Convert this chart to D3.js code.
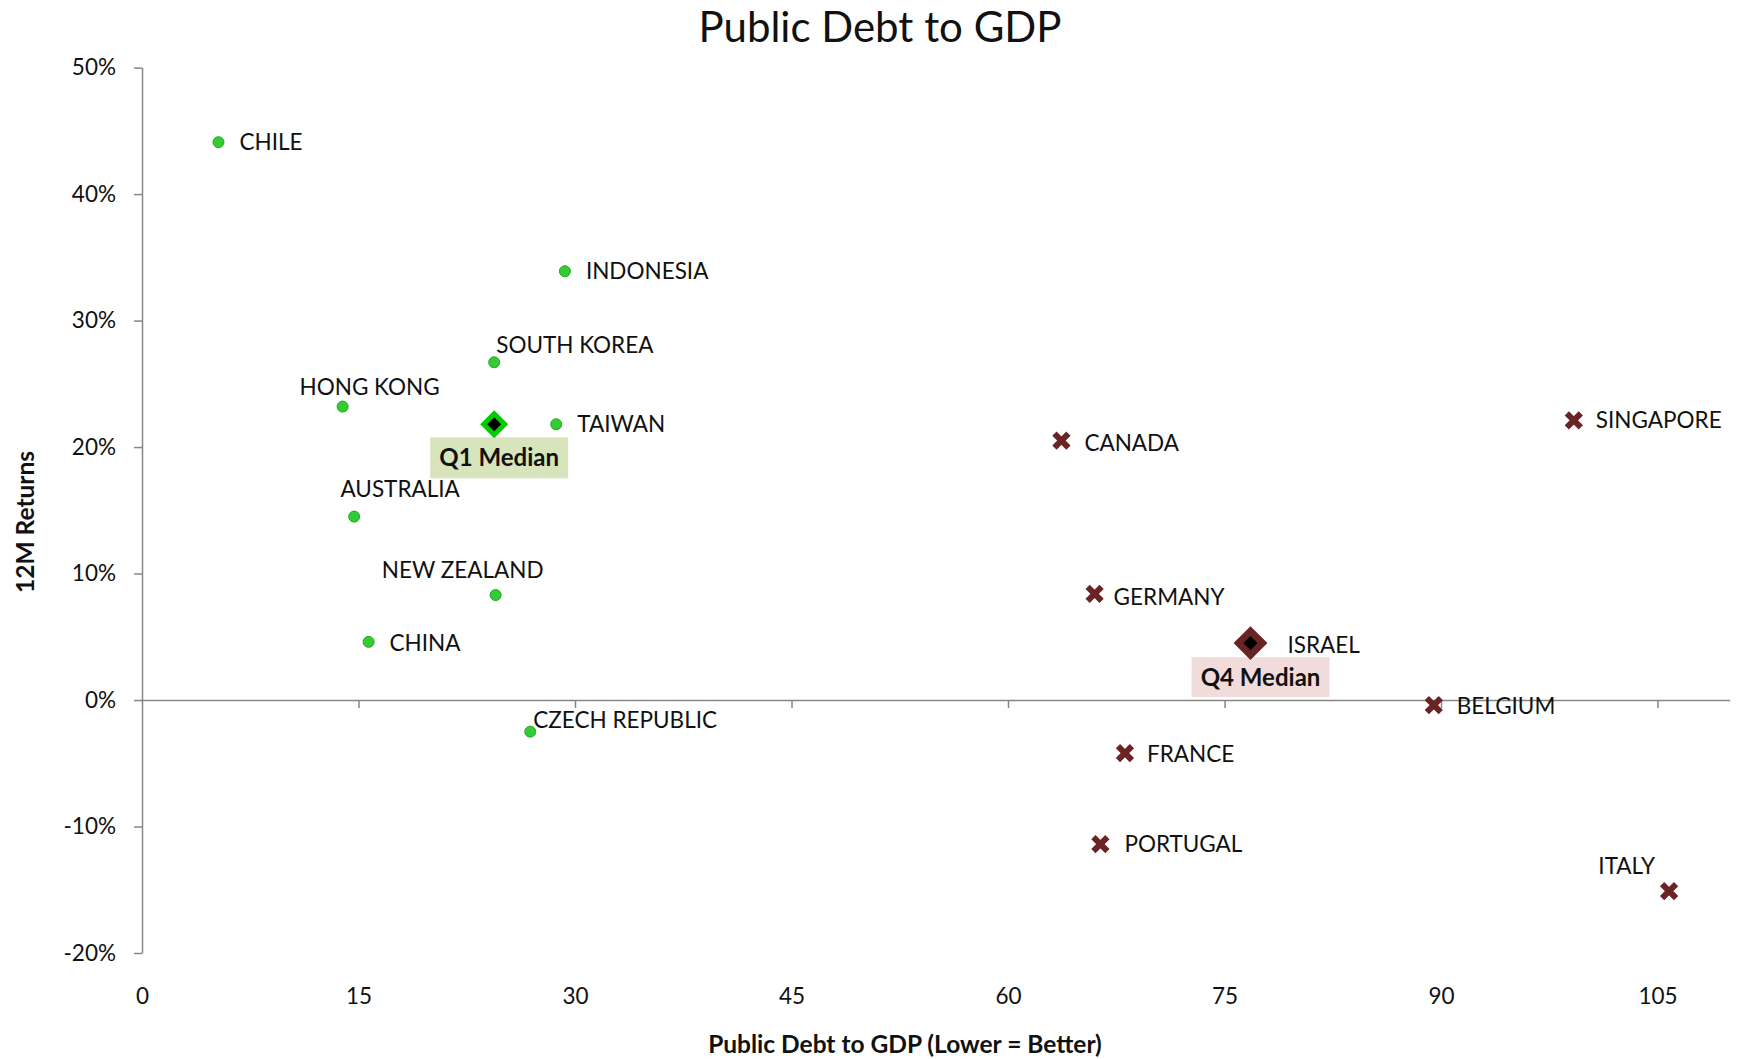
<!DOCTYPE html>
<html>
<head>
<meta charset="utf-8">
<script src="https://cdn.jsdelivr.net/npm/d3@7"></script>
<style>
  body { margin: 0; background: #fff; }
  svg { display: block; font-family: Lato, "Open Sans", sans-serif; }
  .axis path, .axis line { stroke: #868686; stroke-width: 1.5; }
  .axis text { fill: #111; font-size: 22.5px; font-family: Lato, sans-serif; }
</style>
</head>
<body>
<svg width="1738" height="1059"></svg>
<script>
// Q1 group (low debt) - green dots
var q1Countries = ["CHILE","INDONESIA","SOUTH KOREA","HONG KONG","TAIWAN","AUSTRALIA","NEW ZEALAND","CHINA","CZECH REPUBLIC"];
var q1Debt      = [5.3, 29.3, 24.4, 13.9, 28.7, 14.7, 24.5, 15.7, 26.9];
var q1Returns   = [44.1, 33.9, 26.7, 23.2, 21.8, 14.5, 8.3, 4.6, -2.5];

// Q4 group (high debt) - maroon crosses
var q4Countries = ["CANADA","SINGAPORE","GERMANY","ISRAEL","BELGIUM","FRANCE","PORTUGAL","ITALY"];
var q4Debt      = [63.7, 99.2, 66.0, 76.8, 89.5, 68.1, 66.4, 105.8];
var q4Returns   = [20.5, 22.1, 8.4, 4.5, -0.4, -4.2, -11.4, -15.1];

// medians
var medianNames   = ["Q1 Median","Q4 Median"];
var medianDebt    = [24.4, 76.8];
var medianReturns = [21.8, 4.5];

var xTicks = [0,15,30,45,60,75,90,105];
var yTicks = [-20,-10,0,10,20,30,40,50];

// label placement (pixels), kept apart from the values
var labelPos = {
  "CHILE":          {a:"start",  dx:21,  dy:0},
  "INDONESIA":      {a:"start",  dx:21,  dy:0},
  "SOUTH KOREA":    {a:"start",  dx:2,   dy:-17},
  "HONG KONG":      {a:"middle", dx:27,  dy:-19},
  "TAIWAN":         {a:"start",  dx:21,  dy:0},
  "AUSTRALIA":      {a:"middle", dx:46,  dy:-27},
  "NEW ZEALAND":    {a:"middle", dx:-33, dy:-25},
  "CHINA":          {a:"start",  dx:21,  dy:1},
  "CZECH REPUBLIC": {a:"start",  dx:3,   dy:-12},
  "CANADA":         {a:"start",  dx:23,  dy:2},
  "SINGAPORE":      {a:"start",  dx:22,  dy:0},
  "GERMANY":        {a:"start",  dx:19,  dy:3},
  "ISRAEL":         {a:"start",  dx:37,  dy:2},
  "BELGIUM":        {a:"start",  dx:23,  dy:1},
  "FRANCE":         {a:"start",  dx:22,  dy:1},
  "PORTUGAL":       {a:"start",  dx:24,  dy:0},
  "ITALY":          {a:"end",    dx:-14, dy:-25}
};

var green = "#33cc33", maroon = "#6b2424";

var svg = d3.select("svg");
var plotLeft = 142, plotRight = 1729.7, plotTop = 67.6, plotBottom = 953;

var x = d3.scaleLinear().domain([0,110]).range([plotLeft, plotRight]);
var y = d3.scaleLinear().domain([-20,50]).range([plotBottom, plotTop]);

// title
svg.append("text")
  .attr("x", 880).attr("y", 27).attr("dy", "0.35em")
  .attr("text-anchor", "middle")
  .style("font-size", "42px").style("fill", "#111")
  .text("Public Debt to GDP");

// y axis
var yAxis = svg.append("g").attr("class","axis")
  .attr("transform","translate(" + plotLeft + ",0)")
  .call(d3.axisLeft(y).tickValues(yTicks).tickSize(8).tickSizeOuter(0)
    .tickFormat(function(d){ return d + "%"; }));
yAxis.selectAll("text").attr("x", -26);

// x axis at 0%, labels pushed to the bottom
var xAxis = svg.append("g").attr("class","axis")
  .attr("transform","translate(0," + y(0) + ")")
  .call(d3.axisBottom(x).tickValues(xTicks).tickSize(8).tickSizeOuter(0));
xAxis.selectAll("text").attr("y", plotBottom - y(0) + 35);
xAxis.selectAll(".tick").filter(function(d){ return d === 0; }).select("line").remove();

// axis titles
svg.append("text")
  .attr("x", 905).attr("y", 1044).attr("dy","0.35em")
  .attr("text-anchor","middle")
  .style("font-size","24.5px").style("font-weight","bold").style("fill","#111")
  .text("Public Debt to GDP (Lower = Better)");

svg.append("text")
  .attr("transform","translate(25,522) rotate(-90)")
  .attr("dy","0.35em")
  .attr("text-anchor","middle")
  .style("font-size","24.5px").style("font-weight","bold").style("fill","#111")
  .text("12M  Returns");

// median label boxes (behind markers)
var medBox = [
  {fill:"#d8e4bc", x0:-64, x1:74, y0:13, y1:54, tx:5},
  {fill:"#f2dcdb", x0:-59, x1:79, y0:14, y1:54, tx:10}
];
medianNames.forEach(function(n, i){
  var cx = x(medianDebt[i]), cy = y(medianReturns[i]), b = medBox[i];
  svg.append("rect")
    .attr("x", cx + b.x0).attr("y", cy + b.y0)
    .attr("width", b.x1 - b.x0).attr("height", b.y1 - b.y0)
    .attr("fill", b.fill);
  svg.append("text")
    .attr("x", cx + b.tx).attr("y", cy + (b.y0 + b.y1) / 2).attr("dy","0.35em")
    .attr("text-anchor","middle")
    .style("font-size","24px").style("font-weight","bold").style("fill","#111")
    .text(n);
});

var q1 = q1Countries.map(function(c, i){ return {name:c, debt:q1Debt[i], ret:q1Returns[i]}; });
var q4 = q4Countries.map(function(c, i){ return {name:c, debt:q4Debt[i], ret:q4Returns[i]}; });

// Q1 dots
svg.append("g").selectAll("circle").data(q1).enter().append("circle")
  .attr("cx", function(d){ return x(d.debt); })
  .attr("cy", function(d){ return y(d.ret); })
  .attr("r", 5.5)
  .attr("fill", green).attr("stroke", "#22a622").attr("stroke-width", 1);

// Q4 crosses
var cross = svg.append("g").selectAll("g").data(q4).enter().append("g")
  .attr("transform", function(d){ return "translate(" + x(d.debt) + "," + y(d.ret) + ")"; });
cross.append("path")
  .attr("d", "M-7,-7L7,7M7,-7L-7,7")
  .attr("stroke", maroon).attr("stroke-width", 6).attr("fill","none");

// median diamonds
var diamond = [
  {r:10.5, stroke:"#00cc00", sw:5},
  {r:12, stroke:maroon, sw:7}
];
medianNames.forEach(function(n, i){
  var cx = x(medianDebt[i]), cy = y(medianReturns[i]), dm = diamond[i];
  svg.append("path")
    .attr("d", "M" + cx + "," + (cy - dm.r) + "L" + (cx + dm.r) + "," + cy +
               "L" + cx + "," + (cy + dm.r) + "L" + (cx - dm.r) + "," + cy + "Z")
    .attr("fill", "#000").attr("stroke", dm.stroke).attr("stroke-width", dm.sw)
    .attr("stroke-linejoin","miter");
});

// country labels
svg.append("g").selectAll("text").data(q1.concat(q4)).enter().append("text")
  .attr("x", function(d){ return x(d.debt) + labelPos[d.name].dx; })
  .attr("y", function(d){ return y(d.ret) + labelPos[d.name].dy; })
  .attr("dy", "0.35em")
  .attr("text-anchor", function(d){ return labelPos[d.name].a; })
  .style("font-size", "22.5px").style("fill", "#111")
  .text(function(d){ return d.name; });
</script>
</body>
</html>
